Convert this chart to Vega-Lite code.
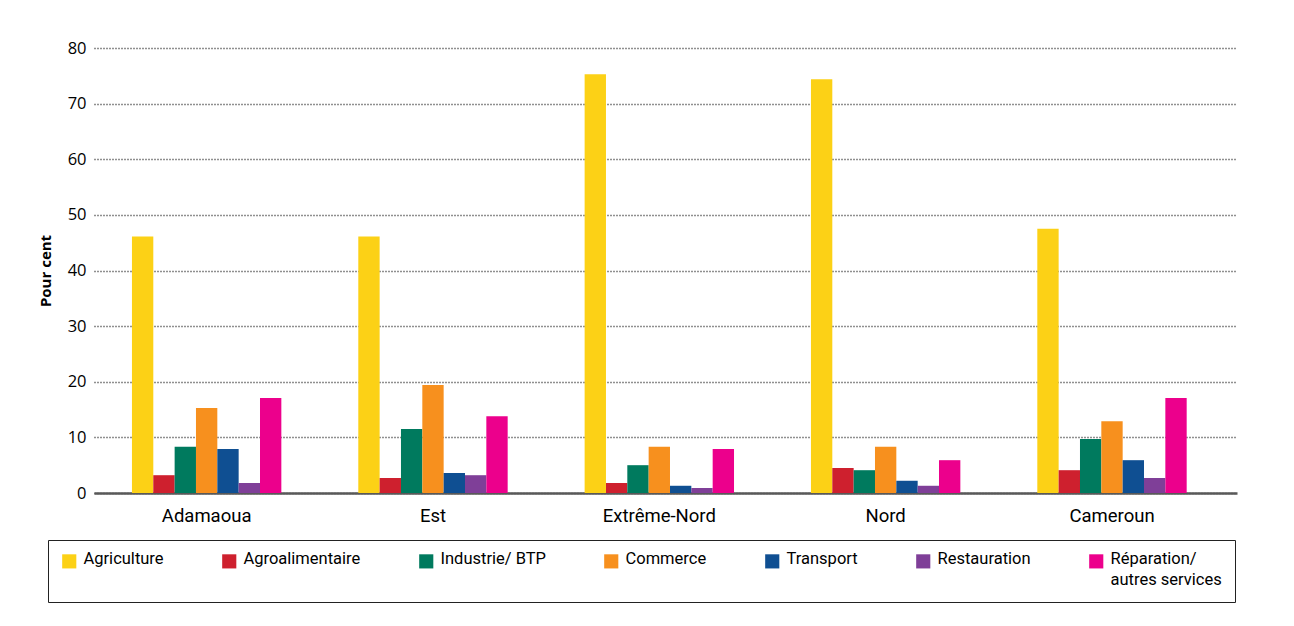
{
  "$schema": "https://vega.github.io/schema/vega-lite/v6.json",
  "width": 1143,
  "height": 445,
  "autosize": "none",
  "padding": {"left": 94, "top": 48, "right": 57, "bottom": 133},
  "background": "white",
  "config": {"view": {"stroke": null}},
  "data": {
    "values": [
      {"region": "Adamaoua", "secteur": "Agriculture", "valeur": 46.1},
      {"region": "Adamaoua", "secteur": "Agroalimentaire", "valeur": 3.2},
      {"region": "Adamaoua", "secteur": "Industrie/ BTP", "valeur": 8.3},
      {"region": "Adamaoua", "secteur": "Commerce", "valeur": 15.3},
      {"region": "Adamaoua", "secteur": "Transport", "valeur": 7.9},
      {"region": "Adamaoua", "secteur": "Restauration", "valeur": 1.8},
      {"region": "Adamaoua", "secteur": "Réparation/ autres services", "valeur": 17.1},
      {"region": "Est", "secteur": "Agriculture", "valeur": 46.1},
      {"region": "Est", "secteur": "Agroalimentaire", "valeur": 2.7},
      {"region": "Est", "secteur": "Industrie/ BTP", "valeur": 11.5},
      {"region": "Est", "secteur": "Commerce", "valeur": 19.4},
      {"region": "Est", "secteur": "Transport", "valeur": 3.6},
      {"region": "Est", "secteur": "Restauration", "valeur": 3.2},
      {"region": "Est", "secteur": "Réparation/ autres services", "valeur": 13.8},
      {"region": "Extrême-Nord", "secteur": "Agriculture", "valeur": 75.3},
      {"region": "Extrême-Nord", "secteur": "Agroalimentaire", "valeur": 1.8},
      {"region": "Extrême-Nord", "secteur": "Industrie/ BTP", "valeur": 5.0},
      {"region": "Extrême-Nord", "secteur": "Commerce", "valeur": 8.3},
      {"region": "Extrême-Nord", "secteur": "Transport", "valeur": 1.3},
      {"region": "Extrême-Nord", "secteur": "Restauration", "valeur": 0.9},
      {"region": "Extrême-Nord", "secteur": "Réparation/ autres services", "valeur": 7.9},
      {"region": "Nord", "secteur": "Agriculture", "valeur": 74.4},
      {"region": "Nord", "secteur": "Agroalimentaire", "valeur": 4.5},
      {"region": "Nord", "secteur": "Industrie/ BTP", "valeur": 4.1},
      {"region": "Nord", "secteur": "Commerce", "valeur": 8.3},
      {"region": "Nord", "secteur": "Transport", "valeur": 2.2},
      {"region": "Nord", "secteur": "Restauration", "valeur": 1.3},
      {"region": "Nord", "secteur": "Réparation/ autres services", "valeur": 5.9},
      {"region": "Cameroun", "secteur": "Agriculture", "valeur": 47.5},
      {"region": "Cameroun", "secteur": "Agroalimentaire", "valeur": 4.1},
      {"region": "Cameroun", "secteur": "Industrie/ BTP", "valeur": 9.7},
      {"region": "Cameroun", "secteur": "Commerce", "valeur": 12.9},
      {"region": "Cameroun", "secteur": "Transport", "valeur": 5.9},
      {"region": "Cameroun", "secteur": "Restauration", "valeur": 2.7},
      {"region": "Cameroun", "secteur": "Réparation/ autres services", "valeur": 17.1}
    ]
  },
  "mark": {"type": "bar"},
  "encoding": {
    "x": {
      "field": "region",
      "type": "nominal",
      "sort": ["Adamaoua", "Est", "Extrême-Nord", "Nord", "Cameroun"],
      "scale": {"paddingInner": 0.34, "paddingOuter": 0.195, "align": 0.43},
      "axis": {
        "title": null,
        "labelAngle": 0,
        "labelFont": "Roboto",
        "labelFontSize": 18.5,
        "labelColor": "#000",
        "labelPadding": 13,
        "ticks": false,
        "domain": true,
        "domainColor": "#595959",
        "domainWidth": 2.5
      }
    },
    "xOffset": {
      "field": "secteur",
      "type": "nominal",
      "sort": ["Agriculture", "Agroalimentaire", "Industrie/ BTP", "Commerce", "Transport", "Restauration", "Réparation/ autres services"],
      "scale": {"paddingInner": 0, "paddingOuter": 0}
    },
    "y": {
      "field": "valeur",
      "type": "quantitative",
      "scale": {"domain": [0, 80], "nice": false},
      "axis": {
        "title": "Pour cent",
        "titleFont": "Open Sans",
        "titleFontSize": 15,
        "titleFontWeight": "bold",
        "titleColor": "#000",
        "titlePadding": 14,
        "values": [0, 10, 20, 30, 40, 50, 60, 70, 80],
        "labelFont": "Open Sans",
        "labelFontSize": 16.5,
        "labelColor": "#000",
        "labelPadding": 8,
        "ticks": false,
        "domain": false,
        "grid": true,
        "gridColor": "#222",
        "gridDash": [1, 2],
        "gridWidth": 1.5
      }
    },
    "color": {
      "field": "secteur",
      "type": "nominal",
      "sort": ["Agriculture", "Agroalimentaire", "Industrie/ BTP", "Commerce", "Transport", "Restauration", "Réparation/ autres services"],
      "scale": {
        "domain": ["Agriculture", "Agroalimentaire", "Industrie/ BTP", "Commerce", "Transport", "Restauration", "Réparation/ autres services"],
        "range": ["#FCD116", "#CE202E", "#007A5E", "#F7901E", "#0F4F92", "#7F3F98", "#EC008C"]
      },
      "legend": {
        "title": null,
        "orient": "none",
        "legendX": -46,
        "legendY": 492,
        "direction": "horizontal",
        "columns": 7,
        "gridAlign": "each",
        "columnPadding": 57,
        "padding": 13,
        "strokeColor": "#222",
        "symbolType": "square",
        "symbolSize": 200,
        "symbolStrokeWidth": 0,
        "symbolOpacity": 1,
        "labelFont": "Roboto",
        "labelFontSize": 16.5,
        "labelColor": "#000",
        "labelOffset": 6,
        "labelLimit": 300,
        "labelBaseline": "top",
        "labelExpr": "datum.label == 'Réparation/ autres services' ? ['Réparation/', 'autres services'] : [datum.label, ' ']",
        "encode": {
          "labels": {"update": {"dy": {"value": -10}, "lineHeight": {"value": 21}}}
        }
      }
    }
  }
}
